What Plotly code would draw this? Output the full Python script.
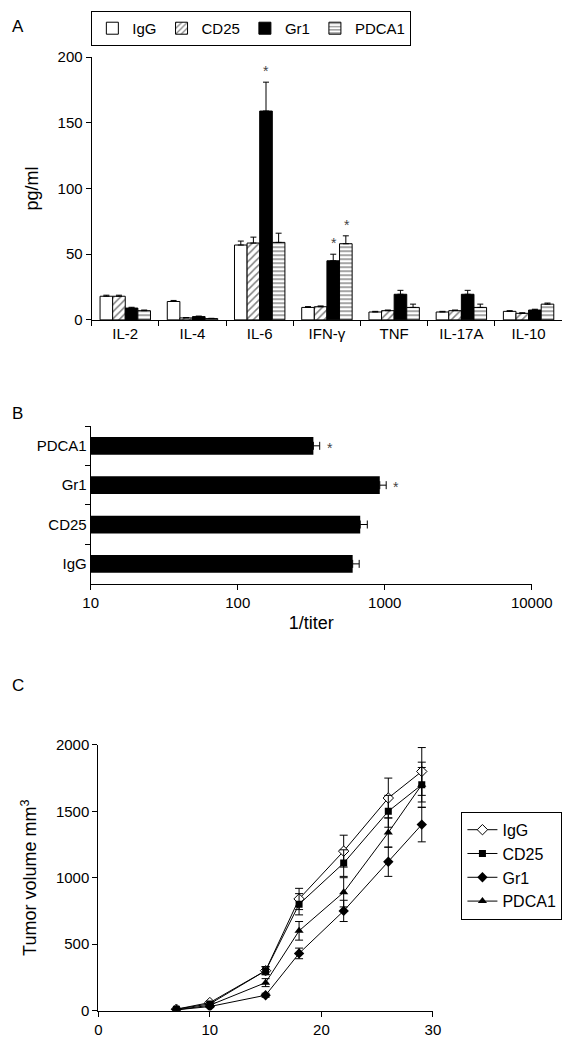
import math
import plotly.graph_objects as go

# ---------------- Panel A data ----------------
cytokines = ["IL-2", "IL-4", "IL-6", "IFN-γ", "TNF", "IL-17A", "IL-10"]
groups = ["IgG", "CD25", "Gr1", "PDCA1"]
igg_vals = [18, 14, 57, 9.5, 6, 6, 6.5]
igg_err = [0.8, 0.8, 3, 0.6, 0.5, 0.5, 0.5]
cd25_vals = [18, 1.5, 58.5, 10, 7, 7, 5]
cd25_err = [0.8, 0.3, 4.5, 0.6, 0.5, 0.5, 0.4]
gr1_vals = [9, 2.5, 159, 45, 19.5, 19.5, 7.5]
gr1_err = [0.6, 0.4, 22, 5, 3, 3, 0.6]
pdca1_vals = [7, 1, 59, 58, 9.5, 9.5, 12]
pdca1_err = [0.5, 0.2, 7, 6, 2.5, 2.5, 0.8]
star_a = [("IL-6", "Gr1"), ("IFN-γ", "Gr1"), ("IFN-γ", "PDCA1")]

# ---------------- Panel B data ----------------
titer_groups = ["IgG", "CD25", "Gr1", "PDCA1"]
titer_vals = [605, 681, 925, 327]
titer_err = [65, 80, 98, 34]
star_b = ["Gr1", "PDCA1"]
titer_ticks = [10, 100, 1000, 10000]

# ---------------- Panel C data ----------------
days = [7, 10, 15, 18, 22, 26, 29]
igg_tv = [10, 60, 300, 840, 1200, 1600, 1800]
igg_tv_err = [5, 10, 30, 80, 120, 150, 180]
cd25_tv = [10, 50, 300, 800, 1110, 1500, 1700]
cd25_tv_err = [5, 10, 30, 80, 100, 120, 130]
gr1_tv = [5, 30, 115, 430, 750, 1120, 1400]
gr1_tv_err = [3, 8, 15, 40, 80, 110, 130]
pdca1_tv = [5, 40, 210, 600, 890, 1340, 1700]
pdca1_tv_err = [3, 8, 30, 70, 110, 110, 170]

FONT = "Liberation Sans, Arial, sans-serif"
W, H = 587, 1050

fig = go.Figure()

# Panel A bars
bar_styles = {
    "IgG": dict(color="white", line=dict(color="black", width=1)),
    "CD25": dict(color="white", line=dict(color="black", width=1),
                 pattern=dict(shape="/", fgcolor="black", bgcolor="white", size=5, solidity=0.3)),
    "Gr1": dict(color="black", line=dict(color="black", width=1)),
    "PDCA1": dict(color="white", line=dict(color="black", width=1),
                  pattern=dict(shape="-", fgcolor="black", bgcolor="white", size=4, solidity=0.35)),
}
a_vals = {"IgG": (igg_vals, igg_err), "CD25": (cd25_vals, cd25_err),
          "Gr1": (gr1_vals, gr1_err), "PDCA1": (pdca1_vals, pdca1_err)}
for g in groups:
    v, e = a_vals[g]
    fig.add_trace(go.Bar(
        x=cytokines, y=v, name=g, marker=bar_styles[g],
        error_y=dict(type="data", array=e, arrayminus=[0] * len(e), symmetric=False,
                     color="black", thickness=1, width=3),
        xaxis="x", yaxis="y", legend="legend",
    ))

# Panel B bars
fig.add_trace(go.Bar(
    y=titer_groups, x=titer_vals, orientation="h", showlegend=False,
    marker=dict(color="black", line=dict(color="black", width=0)),
    error_x=dict(type="data", array=titer_err, arrayminus=[0] * 4, symmetric=False,
                 color="black", thickness=1, width=4),
    xaxis="x2", yaxis="y2", width=0.45,
))

# Panel C lines
c_series = [
    ("IgG", igg_tv, igg_tv_err, dict(symbol="diamond", size=8, color="white",
                                     line=dict(color="black", width=1))),
    ("CD25", cd25_tv, cd25_tv_err, dict(symbol="square", size=7, color="black")),
    ("Gr1", gr1_tv, gr1_tv_err, dict(symbol="diamond", size=8, color="black")),
    ("PDCA1", pdca1_tv, pdca1_tv_err, dict(symbol="triangle-up", size=8, color="black")),
]
for name, v, e, mk in c_series:
    fig.add_trace(go.Scatter(
        x=days, y=v, name=name, mode="lines+markers",
        line=dict(color="black", width=1), marker=mk,
        error_y=dict(type="data", array=e, color="black", thickness=1, width=4),
        xaxis="x3", yaxis="y3", legend="legend2",
    ))

# Stars panel A (offset from bar positions)
bargap_a = 0.25
ncat = len(cytokines)
domA = [88 / W, 583 / W]
cat_px = (domA[1] - domA[0]) * W / ncat
bar_w = (1 - bargap_a) / len(groups)
annotations = []
for cat, g in star_a:
    i = groups.index(g)
    ci = cytokines.index(cat)
    v, e = a_vals[g]
    off = (-(1 - bargap_a) / 2 + bar_w * (i + 0.5)) * cat_px
    annotations.append(dict(x=cat, y=v[ci] + e[ci], xref="x", yref="y", text="*",
                            showarrow=False, xshift=off, yshift=1, yanchor="bottom",
                            font=dict(size=14, color="#444")))
# Stars panel B
for g in star_b:
    i = titer_groups.index(g)
    annotations.append(dict(x=math.log10(titer_vals[i] + titer_err[i]), y=g, xref="x2", yref="y2",
                            text="*", showarrow=False, xanchor="left", xshift=5, yshift=-2,
                            font=dict(size=14, color="#444")))

# Panel letters
for letter, ypx in [("A", 18), ("B", 411), ("C", 688)]:
    annotations.append(dict(x=0.004, y=1 - ypx / H, xref="paper", yref="paper", text=letter,
                            showarrow=False, xanchor="left", yanchor="middle",
                            font=dict(size=17, color="black", family=FONT)))

axis_common = dict(showline=True, linecolor="black", linewidth=1, ticks="outside",
                   tickcolor="black", ticklen=5, showgrid=False, zeroline=False,
                   tickfont=dict(size=15, color="black"))

fig.update_layout(
    width=W, height=H, autosize=False,
    margin=dict(l=0, r=0, t=0, b=0),
    paper_bgcolor="white", plot_bgcolor="white",
    font=dict(family=FONT, size=15, color="black"),
    barmode="group", bargap=bargap_a, bargroupgap=0,
    annotations=annotations,
    xaxis=dict(domain=domA, anchor="y", tickson="boundaries", **axis_common),
    yaxis=dict(domain=[1 - 316 / H, 1 - 49 / H], anchor="x", range=[0, 200],
               tickvals=[0, 50, 100, 150, 200], title=dict(text="pg/ml", standoff=14),
               **axis_common),
    xaxis2=dict(domain=[87 / W, 551 / W], anchor="y2", type="log", range=[1, 4],
                tickvals=titer_ticks, ticktext=[str(t) for t in titer_ticks],
                title=dict(text="1/titer", standoff=6), **axis_common),
    yaxis2=dict(domain=[1 - 584 / H, 1 - 424 / H], anchor="x2", tickson="boundaries",
                categoryorder="array", categoryarray=titer_groups, **axis_common),
    xaxis3=dict(domain=[95 / W, 447 / W], anchor="y3", range=[0, 30],
                tickvals=[0, 10, 20, 30], **axis_common),
    yaxis3=dict(domain=[1 - 1018 / H, 1 - 748 / H], anchor="x3", range=[0, 2000],
                tickvals=[0, 500, 1000, 1500, 2000],
                title=dict(text="Tumor volume mm<sup>3</sup>", standoff=14), **axis_common),
    legend=dict(orientation="h", x=256 / W, xanchor="center", y=1 - 2 / H, yanchor="top",
                bordercolor="black", borderwidth=1, bgcolor="white",
                font=dict(size=15), itemwidth=30, tracegroupgap=0),
    legend2=dict(orientation="v", x=477 / W, xanchor="left", y=1 - 816 / H, yanchor="top",
                 bordercolor="black", borderwidth=1, bgcolor="white",
                 font=dict(size=16), itemwidth=30, tracegroupgap=0),
)

fig.write_html("out.html", config={"displayModeBar": False},
               post_script="document.body.style.margin='0px';")
